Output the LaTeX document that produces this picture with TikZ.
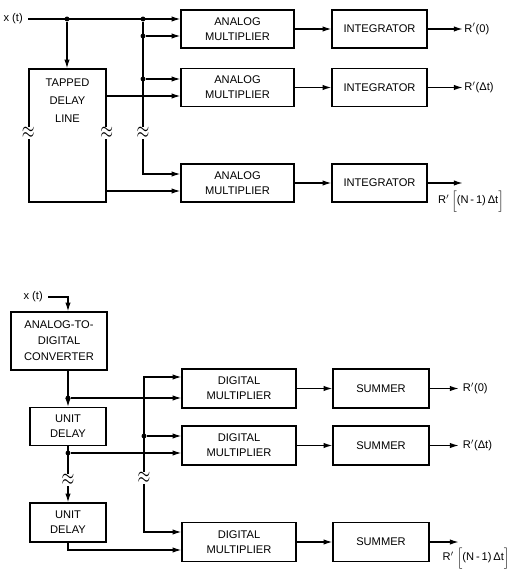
\documentclass[tikz,border=0pt]{standalone}
\usepackage{fontspec}
\usepackage{graphicx}
\setmainfont{Liberation Sans}
\usetikzlibrary{arrows.meta}

\newcommand{\blkfont}{\fontsize{9.5}{12.8}\selectfont}
\newcommand{\brkmark}{\scalebox{1.4}[2]{$\approx$}}

\begin{document}
\begin{tikzpicture}[x=0.03cm, y=-0.03cm, >={Latex[length=7.5pt,width=4.6pt]}, line width=1pt,
    blk/.style={draw, line width=1.1pt, align=center, inner sep=0pt, font=\blkfont},
    amul/.style={blk, minimum width=3.39cm, minimum height=1.14cm},
    intg/.style={blk, minimum width=2.85cm, minimum height=1.14cm},
    dmul/.style={blk, minimum width=3.42cm, minimum height=1.17cm},
    summ/.style={blk, minimum width=2.88cm, minimum height=1.17cm},
    udel/.style={blk, minimum width=2.28cm, minimum height=1.14cm},
    lbl/.style={font=\blkfont, inner sep=1pt},
    dot/.style={circle, fill, inner sep=0pt, minimum size=4.2pt},
    brk/.style={fill=white, inner sep=0.3pt}]
    \useasboundingbox (0,0) rectangle (516,570);

    % ---------------- Analog correlator ----------------
    \node[blk, minimum width=2.31cm, minimum height=3.99cm] (tdl) at (67.5,135.5) {};
    \node[font=\fontsize{9.5}{15.5}\selectfont, align=center] (tdltxt) at (67.5,101) {TAPPED\\DELAY\\LINE};

    \node[amul] (am1) at (237.5,29) {ANALOG\\MULTIPLIER};
    \node[amul] (am2) at (237.5,87.5) {ANALOG\\MULTIPLIER};
    \node[amul] (am3) at (237.5,183) {ANALOG\\MULTIPLIER};

    \node[intg] (in1) at (379.5,29) {INTEGRATOR};
    \node[intg] (in2) at (379.5,87.5) {INTEGRATOR};
    \node[intg] (in3) at (379.5,183) {INTEGRATOR};

    % Input and taps
    \coordinate (xa) at (28,19);
    \node[lbl, left=3pt] (xalbl) at (xa) {x (t)};
    \node[dot] (ja) at (67,19) {};
    \node[dot] (jb) at (143,19) {};
    \node[dot] (jc) at (143,36) {};
    \node[dot] (jd) at (143,79) {};
    \coordinate (je) at (143,174);

    \draw[->] (xa) -- (xa -| am1.west);
    \draw[->] (ja) -- (ja |- tdl.north);
    \draw[->] (jb) -- (je) -- (je -| am3.west);
    \draw[->] (jc) -- (jc -| am1.west);
    \draw[->] (jd) -- (jd -| am2.west);
    \draw[->] (tdl.east |- 0,96) -- (am2.west |- 0,96);
    \draw[->] (tdl.east |- 0,191) -- (am3.west |- 0,191);

    \foreach \i in {1,2,3}
        \draw[->] (am\i.east) -- (in\i.west);

    \draw[->] (in1.east) -- ++(35,0) node[lbl, right] {R$'$(0)};
    \draw[->] (in2.east) -- ++(35,0) node[lbl, right] {R$'$(Δt)};
    \draw[->] (in3.east) -- ++(35,0);
    \node[lbl] (o3) at (471,201) {R$'$\,$\Bigl[$(N\,-\,1)\,Δt$\Bigr]$};

    % Breaks
    \node[brk] at (tdl.west |- 0,133) {\brkmark};
    \node[brk] at (tdl.east |- 0,133) {\brkmark};
    \node[brk] at (143,133) {\brkmark};

    % ---------------- Digital correlator ----------------
    \node[blk, minimum width=2.88cm, minimum height=1.74cm, font=\fontsize{9.5}{13.6}\selectfont] (adc) at (59,341) {ANALOG-TO-\\DIGITAL\\CONVERTER};
    \node[udel] (ud1) at (68,426.5) {UNIT\\DELAY};
    \node[udel, minimum height=1.17cm] (ud2) at (68,522.5) {UNIT\\DELAY};

    \node[dmul] (dm1) at (239,388.5) {DIGITAL\\MULTIPLIER};
    \node[dmul] (dm2) at (239,445.5) {DIGITAL\\MULTIPLIER};
    \node[dmul] (dm3) at (239,542) {DIGITAL\\MULTIPLIER};

    \node[summ] (sm1) at (381,388.5) {SUMMER};
    \node[summ] (sm2) at (381,445.5) {SUMMER};
    \node[summ] (sm3) at (381,542) {SUMMER};

    % Input and delay chain
    \coordinate (xb) at (48,297);
    \node[lbl, left=3pt] (xblbl) at (xb) {x (t)};
    \draw[->] (xb) -- (ud1.north |- xb) -- (ud1.north |- adc.north);
    \draw[->] (ud1.north |- adc.south) -- (ud1.north);
    \draw[->] (ud1.south) -- (ud2.north);
    \node[dot] (ka) at (68,398) {};
    \node[dot] (ke) at (68,453) {};
    \coordinate (kf) at (68,550);
    \draw[->] (ka) -- (ka -| dm1.west);
    \draw[->] (ke) -- (ke -| dm2.west);
    \draw[->] (ud2.south) -- (kf) -- (kf -| dm3.west);

    % Bus
    \coordinate (kb) at (144,377);
    \coordinate (kc) at (144,532);
    \node[dot] (kd) at (144,436) {};
    \draw[<->] (kb -| dm1.west) -- (kb) -- (kc) -- (kc -| dm3.west);
    \draw[->] (kd) -- (kd -| dm2.west);

    \foreach \i in {1,2,3}
        \draw[->] (dm\i.east) -- (sm\i.west);

    \draw[->] (sm1.east) -- ++(29,0) node[lbl, right=2pt] {R$'$(0)};
    \draw[->] (sm2.east) -- ++(29,0) node[lbl, right=2pt] {R$'$(Δt)};
    \draw[->] (sm3.east) -- ++(29,0);
    \node[lbl] (p3) at (476,558) {R$'$\ $\Bigl[$(N\,-\,1)\,Δt$\Bigr]$};

    % Breaks
    \node[brk] at (68,480) {\brkmark};
    \node[brk] at (144,478) {\brkmark};
\end{tikzpicture}
\end{document}
